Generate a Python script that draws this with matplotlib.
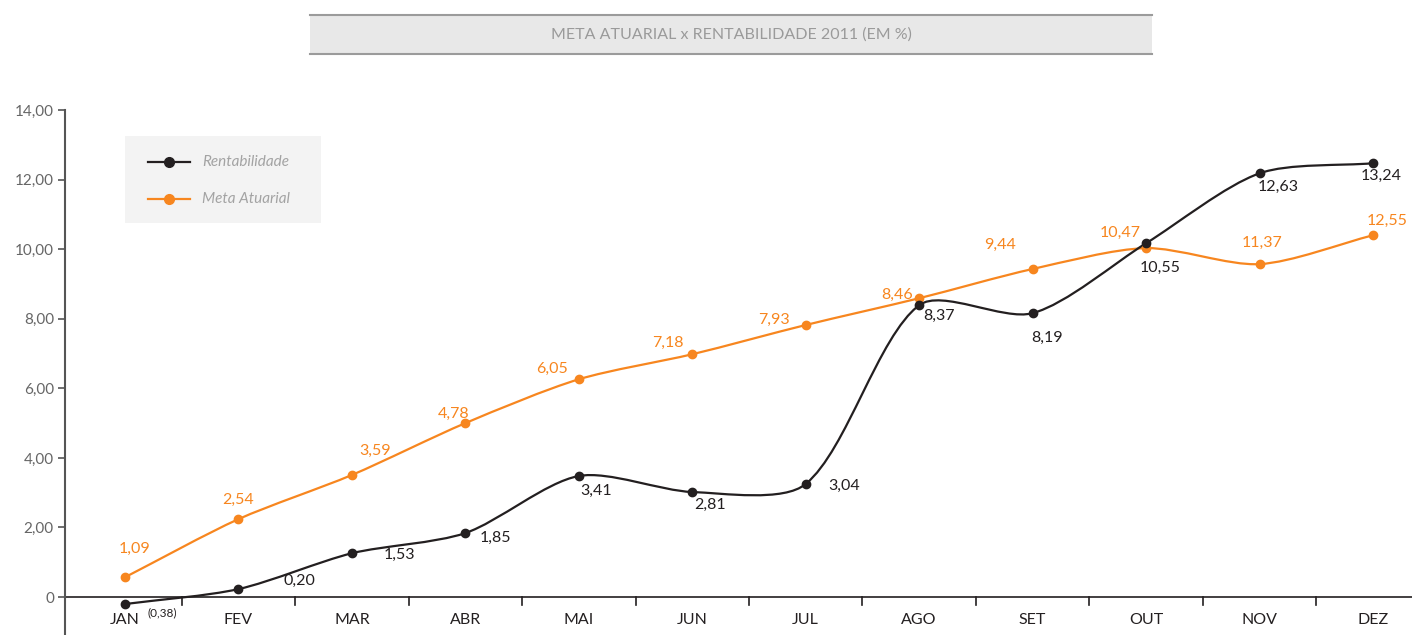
import matplotlib
matplotlib.use('Agg')
import matplotlib.pyplot as plt
from matplotlib.path import Path
from matplotlib.patches import PathPatch, Rectangle
from matplotlib.lines import Line2D

plt.rcParams['font.family'] = ['Lato', 'DejaVu Sans']

months = ['JAN', 'FEV', 'MAR', 'ABR', 'MAI', 'JUN', 'JUL', 'AGO', 'SET', 'OUT', 'NOV', 'DEZ']

# values as drawn on the chart
rentabilidade = [-0.20, 0.23, 1.26, 1.84, 3.48, 3.02, 3.25, 8.39, 8.16, 10.17, 12.18, 12.47]
meta_atuarial = [0.57, 2.24, 3.51, 5.00, 6.26, 6.98, 7.82, 8.59, 9.43, 10.03, 9.57, 10.40]

# labels as printed on the chart
rent_labels = ['(0,38)', '0,20', '1,53', '1,85', '3,41', '2,81', '3,04', '8,37', '8,19', '10,55', '12,63', '13,24']
meta_labels = ['1,09', '2,54', '3,59', '4,78', '6,05', '7,18', '7,93', '8,46', '9,44', '10,47', '11,37', '12,55']

yticks = [0, 2, 4, 6, 8, 10, 12, 14]
ytick_labels = ['0', '2,00', '4,00', '6,00', '8,00', '10,00', '12,00', '14,00']

BLACK = '#231f20'
ORANGE = '#f7861f'

# label offsets in pixels (dx, dy), dy positive = down
rent_off = [(37, 9), (61, -8), (48, 2), (30, 5), (17, 15), (18, 13), (38, 2),
            (20, 11), (14, 25), (14, 25), (19, 14), (8, 13)]
meta_off = [(10, -28), (0, -19), (23, -24), (-12, -9), (-27, -10), (-24, -11), (-32, -5),
            (-22, -3), (-33, -24), (-26, -15), (3, -21), (14, -14)]

PX_X, PX_Y = 113.45, 34.8  # pixels per data unit


def smooth_path(xs, ys, t=0.28):
    pts = list(zip(xs, ys))
    n = len(pts)

    def dist(a, b):
        return (((a[0] - b[0]) * PX_X) ** 2 + ((a[1] - b[1]) * PX_Y) ** 2) ** 0.5

    c_in, c_out = [None] * n, [None] * n
    for i in range(n):
        p0 = pts[max(i - 1, 0)]
        p2 = pts[min(i + 1, n - 1)]
        p1 = pts[i]
        d0, d2 = dist(p0, p1), dist(p1, p2)
        tot = d0 + d2
        tx, ty = p2[0] - p0[0], p2[1] - p0[1]
        c_out[i] = (p1[0] + tx * t * d2 / tot, p1[1] + ty * t * d2 / tot)
        c_in[i] = (p1[0] - tx * t * d0 / tot, p1[1] - ty * t * d0 / tot)
    verts = [pts[0]]
    codes = [Path.MOVETO]
    for i in range(n - 1):
        verts += [c_out[i], c_in[i + 1], pts[i + 1]]
        codes += [Path.CURVE4] * 3
    return Path(verts, codes)


fig = plt.figure(figsize=(14.12, 6.35), dpi=100)
ax = fig.add_axes([65 / 1412, 0, 1 - 65 / 1412, (635 - 110) / 635])
x = list(range(len(months)))

ax.set_xlim(-0.529, 11.344)
ax.set_ylim(-1.09, 14)

for vals, col in [(meta_atuarial, ORANGE), (rentabilidade, BLACK)]:
    ax.add_patch(PathPatch(smooth_path(x, vals), facecolor='none', edgecolor=col, lw=1.6, zorder=3))
    ax.plot(x, vals, 'o', color=col, ms=6, zorder=4, clip_on=False)

for i in x:
    dx, dy = rent_off[i]
    fs = 8.5 if i == 0 else 11.5
    ax.annotate(rent_labels[i], (i, rentabilidade[i]), xytext=(dx * 0.72, -dy * 0.72),
                textcoords='offset points', ha='center', va='center', color=BLACK, fontsize=fs)
    dx, dy = meta_off[i]
    ax.annotate(meta_labels[i], (i, meta_atuarial[i]), xytext=(dx * 0.72, -dy * 0.72),
                textcoords='offset points', ha='center', va='center', color=ORANGE, fontsize=11.5)

# x axis line and category ticks
ax.axhline(0, color=BLACK, lw=1.2, zorder=2)
for b in range(len(months) - 1):
    ax.plot([b + 0.5, b + 0.5], [0, -0.22], color=BLACK, lw=1.2, zorder=2)
for i, m in enumerate(months):
    ax.text(i, -0.66, m, ha='center', va='center', fontsize=11.5, color=BLACK)

for s in ['top', 'right', 'bottom']:
    ax.spines[s].set_visible(False)
ax.spines['left'].set_color('#555555')
ax.spines['left'].set_linewidth(1.5)
ax.set_xticks([])
ax.set_yticks(yticks)
ax.set_yticklabels(ytick_labels)
ax.tick_params(axis='y', direction='out', length=5, width=1.2, color='#555555',
               labelcolor='#666666', labelsize=11, pad=3)

# legend box
fig.patches.append(Rectangle((125 / 1412, 1 - 223 / 635), 196 / 1412, 87 / 635,
                             transform=fig.transFigure, facecolor='#f3f3f3', edgecolor='none', zorder=0))
for yy, col, name in [(162, BLACK, 'Rentabilidade'), (199, ORANGE, 'Meta Atuarial')]:
    yf = 1 - yy / 635
    fig.lines.append(Line2D([148 / 1412, 190 / 1412], [yf, yf], transform=fig.transFigure,
                            color=col, lw=1.6))
    fig.lines.append(Line2D([169 / 1412], [yf], transform=fig.transFigure, color=col,
                            marker='o', ms=7))
    fig.text(202 / 1412, yf, name, ha='left', va='center', fontsize=11, style='italic',
             color='#a3a3a3')

# title box
fig.patches.append(Rectangle((310 / 1412, 1 - 54 / 635), 842 / 1412, 39 / 635,
                             transform=fig.transFigure, facecolor='#e8e8e8', edgecolor='none'))
for yy in (15, 54):
    fig.lines.append(Line2D([310 / 1412, 1152 / 1412], [1 - yy / 635] * 2, transform=fig.transFigure,
                            color='#9b9b9b', lw=1.5))
fig.text(731 / 1412, 1 - 35 / 635, 'META ATUARIAL x RENTABILIDADE 2011 (EM %)', ha='center',
         va='center', fontsize=11.5, color='#9a9a9a')

fig.savefig('out.png', dpi=100)
